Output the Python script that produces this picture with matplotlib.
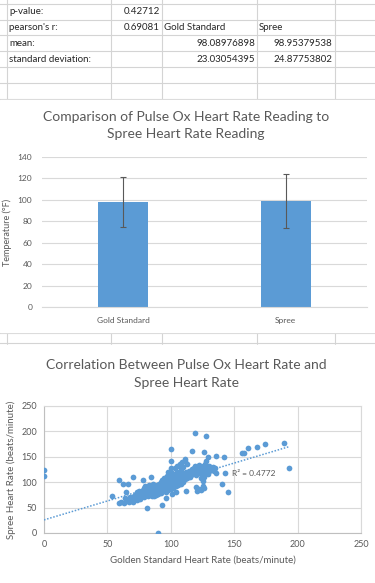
import numpy as np
import matplotlib
matplotlib.use("Agg")
import matplotlib.pyplot as plt

plt.rcParams['font.family'] = ['Lato', 'DejaVu Sans']

# summary table values
p_value = 0.42712
pearson_r = 0.69081
groups = ["Gold Standard", "Spree"]
means = [98.08976898, 98.95379538]
stds = [23.03054395, 24.87753802]

# scatter data
gold_hr = [0, 0, 90, 54, 59, 62, 66, 65, 70, 81, 93, 78, 84,
           100, 119, 128, 117, 126, 111, 129, 136, 142, 156, 158, 161, 168, 174, 189, 193, 143, 140, 145, 112, 125,
           120, 122, 124, 126, 121, 125,
           59, 61, 63, 65, 67, 66, 69, 70, 72, 73, 71, 74, 76, 75, 77, 73, 68, 64,
           72, 73, 74, 75, 76, 77, 78, 78, 79, 79, 80, 80, 80,
           81, 81, 82, 82, 83, 83, 84, 84, 85, 85, 85, 86, 86, 87, 87, 87, 88, 88, 88, 89, 89, 90, 90, 90, 90,
           91, 91, 91, 92, 92, 92, 93, 93, 93, 94, 94, 94, 95, 95, 95, 96, 96, 96, 97, 97, 97, 98, 98, 98, 98,
           99, 99, 99, 100, 100, 100, 100, 100, 100,
           101, 101, 101, 102, 102, 102, 103, 103, 103, 103, 104, 104, 104, 105, 105, 105, 105, 106, 106, 106,
           107, 107, 107, 108, 108, 108, 108, 109, 109, 109, 110, 110, 110, 110, 111, 111, 111, 112, 112, 113,
           113, 113, 114, 114, 115, 115,
           116, 117, 118, 118, 119, 119, 120, 120, 121, 121, 122, 122, 123, 123, 124, 124, 125, 125, 126, 126,
           127, 127, 128, 128, 129, 129, 130, 130, 131, 132, 133, 134, 135, 128, 126, 124, 136,
           96, 87, 101, 104, 107]
spree_hr = [125, 113, 0, 72, 104, 96, 97, 81, 110, 49, 55, 104, 110,
            165, 196, 191, 161, 159, 146, 149, 152, 150, 157, 157, 168, 169, 175, 178, 127, 118, 97, 81, 83, 102,
            90, 86, 84, 88, 82, 92,
            60, 62, 60, 63, 61, 66, 64, 62, 68, 65, 72, 70, 66, 75, 72, 78, 70, 68,
            74, 80, 77, 82, 72, 79, 85, 75, 71, 88, 80, 92, 74,
            78, 84, 72, 88, 80, 94, 76, 86, 82, 90, 73, 79, 96, 84, 77, 92, 88, 81, 74, 86, 95, 80, 90, 84, 76,
            88, 96, 82, 85, 100, 78, 92, 87, 104, 82, 95, 89, 98, 86, 108, 92, 80, 101, 88, 95, 112, 84, 98, 105, 120,
            90, 100, 94, 86, 96, 104, 112, 128, 142,
            92, 101, 118, 88, 98, 108, 95, 104, 114, 127, 92, 100, 110, 98, 106, 120, 132, 94, 104, 112,
            100, 108, 118, 96, 106, 115, 126, 104, 112, 140, 100, 108, 118, 130, 106, 114, 142, 110, 120, 108,
            116, 135, 112, 122, 110, 118,
            114, 126, 118, 128, 122, 132, 114, 126, 130, 118, 124, 134, 120, 128, 116, 126, 122, 132, 118, 128,
            124, 136, 120, 130, 126, 116, 122, 132, 128, 124, 130, 122, 128, 142, 110, 108, 118,
            69, 72, 76, 80, 135]

# trendline from the table stats
slope = pearson_r * stds[1] / stds[0]
intercept = means[1] - slope * means[0]

W, H = 375, 583
fig = plt.figure(figsize=(W / 100, H / 100), dpi=100)

def px_axes(left, top, right, bottom, **kw):
    return fig.add_axes([left / W, 1 - bottom / H, (right - left) / W, (bottom - top) / H], **kw)

# spreadsheet background
bg = px_axes(0, 0, W, H)
bg.set_xlim(0, W)
bg.set_ylim(H, 0)
bg.axis('off')
grid_c = '#d4d4d4'
for y in [4, 20, 35, 51, 67, 83, 99, 333, 343]:
    bg.axhline(y, color=grid_c, lw=0.8)
for x in [7, 111, 162, 257, 335]:
    bg.plot([x, x], [0, 100], color=grid_c, lw=0.8)
    bg.plot([x, x], [333, 345], color=grid_c, lw=0.8)
bg.add_patch(plt.Rectangle((0, 100), W, 232, color='white', zorder=2))
bg.add_patch(plt.Rectangle((0, 345), W, 240, color='white', zorder=2))

tc = '#262626'
fs = 7
bg.text(9, 12, "p-value:", fontsize=fs, color=tc, va='center')
bg.text(160, 12, f"{p_value:.5f}", fontsize=fs, color=tc, va='center', ha='right')
bg.text(9, 28, "pearson's r:", fontsize=fs, color=tc, va='center')
bg.text(160, 28, f"{pearson_r:.5f}", fontsize=fs, color=tc, va='center', ha='right')
bg.text(164, 28, groups[0], fontsize=fs, color=tc, va='center')
bg.text(259, 28, groups[1], fontsize=fs, color=tc, va='center')
bg.text(9, 43, "mean:", fontsize=fs, color=tc, va='center')
bg.text(255, 43, f"{means[0]:.8f}", fontsize=fs, color=tc, va='center', ha='right')
bg.text(332, 43, f"{means[1]:.8f}", fontsize=fs, color=tc, va='center', ha='right')
bg.text(9, 59, "standard deviation:", fontsize=fs, color=tc, va='center')
bg.text(255, 59, f"{stds[0]:.8f}", fontsize=fs, color=tc, va='center', ha='right')
bg.text(332, 59, f"{stds[1]:.8f}", fontsize=fs, color=tc, va='center', ha='right')

lab_c = '#595959'
blue = '#5b9bd5'
bg.text(186, 117, "Comparison of Pulse Ox Heart Rate Reading to", fontsize=10, color=lab_c,
        ha='center', va='center', zorder=3)
bg.text(186, 134, "Spree Heart Rate Reading", fontsize=10, color=lab_c,
        ha='center', va='center', zorder=3)
bg.text(186, 365, "Correlation Between Pulse Ox Heart Rate and", fontsize=10, color=lab_c,
        ha='center', va='center', zorder=3)
bg.text(186, 383, "Spree Heart Rate", fontsize=10, color=lab_c,
        ha='center', va='center', zorder=3)

# bar chart
ax1 = px_axes(42, 157, 367, 307)
ax1.bar(range(len(groups)), means, width=0.31, color=blue, zorder=2)
ax1.errorbar(range(len(groups)), means, yerr=stds, fmt='none', ecolor='#595959',
             elinewidth=0.8, capsize=2, capthick=0.8, zorder=3)
ax1.set_xlim(-0.5, 1.5)
ax1.set_ylim(0, 140)
ax1.set_yticks(range(0, 141, 20))
ax1.set_xticks(range(len(groups)))
ax1.set_xticklabels(groups)
ax1.grid(axis='y', color='#d9d9d9', lw=0.8)
ax1.set_axisbelow(True)
for s in ['top', 'right', 'left']:
    ax1.spines[s].set_visible(False)
ax1.spines['bottom'].set_color('#d9d9d9')
ax1.tick_params(length=0, labelsize=6, colors=lab_c, pad=7)
ax1.set_ylabel("Temperature (°F)", fontsize=6.5, color=lab_c, labelpad=4)
ax1.patch.set_alpha(0)

# scatter chart
ax2 = px_axes(44, 406, 361, 533)
ax2.scatter(gold_hr, spree_hr, s=17, color=blue, zorder=3, linewidths=0)
xs = np.array([0, max(gold_hr)])
ax2.plot(xs, slope * xs + intercept, color=blue, ls=(0, (1, 1.1)), lw=1.1, zorder=4)
ax2.text(148, 118, f"R² = {pearson_r ** 2:.4f}", fontsize=6, color=lab_c, va='center', zorder=5)
ax2.set_xlim(0, 250)
ax2.set_ylim(0, 250)
ax2.set_xticks(range(0, 251, 50))
ax2.set_yticks(range(0, 251, 50))
ax2.grid(color='#d9d9d9', lw=0.8)
ax2.set_axisbelow(True)
for s in ax2.spines.values():
    s.set_color('#d9d9d9')
ax2.spines['left'].set_color('#bfbfbf')
ax2.spines['bottom'].set_color('#bfbfbf')
ax2.tick_params(length=0, labelsize=6.5, colors=lab_c, pad=5)
ax2.set_xlabel("Golden Standard Heart Rate (beats/minute)", fontsize=7, color=lab_c, labelpad=5)
ax2.set_ylabel("Spree Heart Rate (beats/minute)", fontsize=7, color=lab_c, labelpad=4)

fig.savefig("out.png", dpi=100)
